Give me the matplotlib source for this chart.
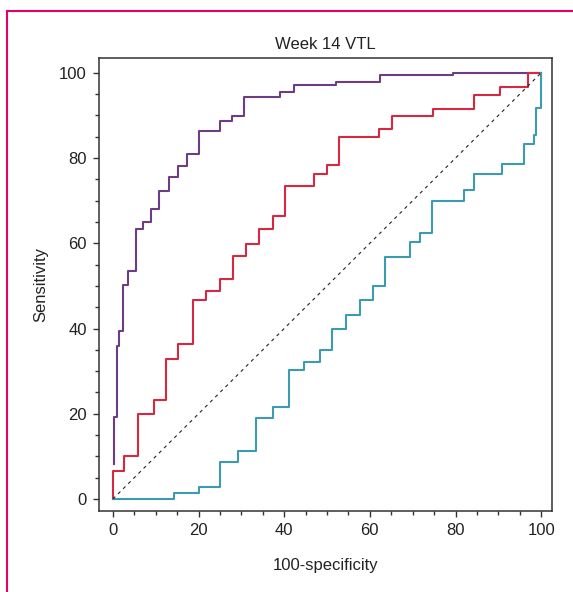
import matplotlib
matplotlib.use("Agg")
import matplotlib.pyplot as plt
from matplotlib.lines import Line2D
from matplotlib.ticker import MultipleLocator

plt.rcParams["font.family"] = ["Liberation Sans", "DejaVu Sans"]

# ROC staircases: at each fpr the sensitivity rises to the given value
purple_fpr = [0.2, 0.2, 0.9, 0.9, 1.4, 2.4, 3.5, 5.5, 7.0, 8.9, 10.8, 13.1, 15.3,
              17.3, 20.1, 25.1, 27.9, 30.6, 39.1, 42.2, 52.0, 62.3, 79.4, 100]
purple_tpr = [8.2, 19.2, 23.6, 35.8, 39.5, 50.2, 53.4, 63.3, 65.0, 68.1, 72.2, 75.5,
              78.1, 81.0, 86.4, 88.7, 89.9, 94.4, 95.5, 97.2, 97.9, 99.4, 100, 100]

red_fpr = [0, 0, 2.7, 5.9, 9.7, 12.5, 15.3, 18.8, 21.7, 24.9, 28.1, 31.0, 34.2,
           37.3, 40.3, 46.9, 50.1, 52.7, 62.2, 65.2, 74.8, 84.2, 90.5, 97.0, 100]
red_tpr = [0, 6.6, 10.0, 19.9, 23.2, 32.9, 36.3, 46.7, 48.8, 51.6, 56.9, 59.8, 63.3,
           66.3, 73.4, 76.3, 78.4, 84.9, 86.8, 89.9, 91.6, 94.9, 96.6, 100, 100]

teal_fpr = [0, 14.2, 20.2, 25.0, 29.3, 33.5, 37.3, 41.2, 44.6, 48.3, 51.2, 54.4,
            57.6, 60.8, 63.5, 69.4, 71.6, 74.4, 82.0, 84.2, 90.8, 96.0, 98.3, 98.7, 100]
teal_tpr = [0, 1.5, 2.9, 8.7, 11.3, 19.0, 21.5, 30.3, 32.2, 34.9, 39.8, 43.1,
            46.7, 50.0, 56.8, 60.4, 62.3, 70.0, 72.5, 76.2, 78.6, 83.3, 85.3, 91.8, 100]

ticks = [0, 20, 40, 60, 80, 100]

text_color = "#222222"
fig = plt.figure(figsize=(5.73, 5.92), dpi=100)
ax = fig.add_axes([0.1723, 0.1373, 0.7916, 0.7642])

ax.plot(purple_fpr, purple_tpr, drawstyle="steps-post", color="#6E3C82", lw=1.5)
ax.plot(red_fpr, red_tpr, drawstyle="steps-post", color="#D72841", lw=1.5)
ax.plot(teal_fpr, teal_tpr, drawstyle="steps-post", color="#3C9BAF", lw=1.5)
ax.plot([0, 100], [0, 100], color="#222222", lw=0.8, linestyle=(0, (3, 3.5)), zorder=5)

ax.set_xlim(-3.3, 102.6)
ax.set_ylim(-2.75, 103.4)
ax.set_xticks(ticks)
ax.set_yticks(ticks)
ax.xaxis.set_minor_locator(MultipleLocator(5))
ax.yaxis.set_minor_locator(MultipleLocator(5))
ax.tick_params(which="major", length=4.5, width=1.0, color="#333333",
               labelsize=12, labelcolor=text_color, pad=4)
ax.tick_params(which="minor", length=3, width=1.0, color="#333333")
for sp in ax.spines.values():
    sp.set_linewidth(1.1)
    sp.set_color("#333333")

ax.set_title("Week 14 VTL", fontsize=12, color=text_color, pad=6.5)
ax.set_xlabel("100-specificity", fontsize=12, color=text_color, labelpad=15)
ax.set_ylabel("Sensitivity", fontsize=12, color=text_color, labelpad=8)

# magenta frame of the journal figure
bx, by = 7.3 / 573, 1 - 11 / 592
fig.add_artist(Line2D([bx, bx], [0, by], transform=fig.transFigure, color="#E2006F", lw=1.5))
fig.add_artist(Line2D([bx, 1], [by, by], transform=fig.transFigure, color="#E2006F", lw=1.5))

fig.savefig("out.png", dpi=100)
